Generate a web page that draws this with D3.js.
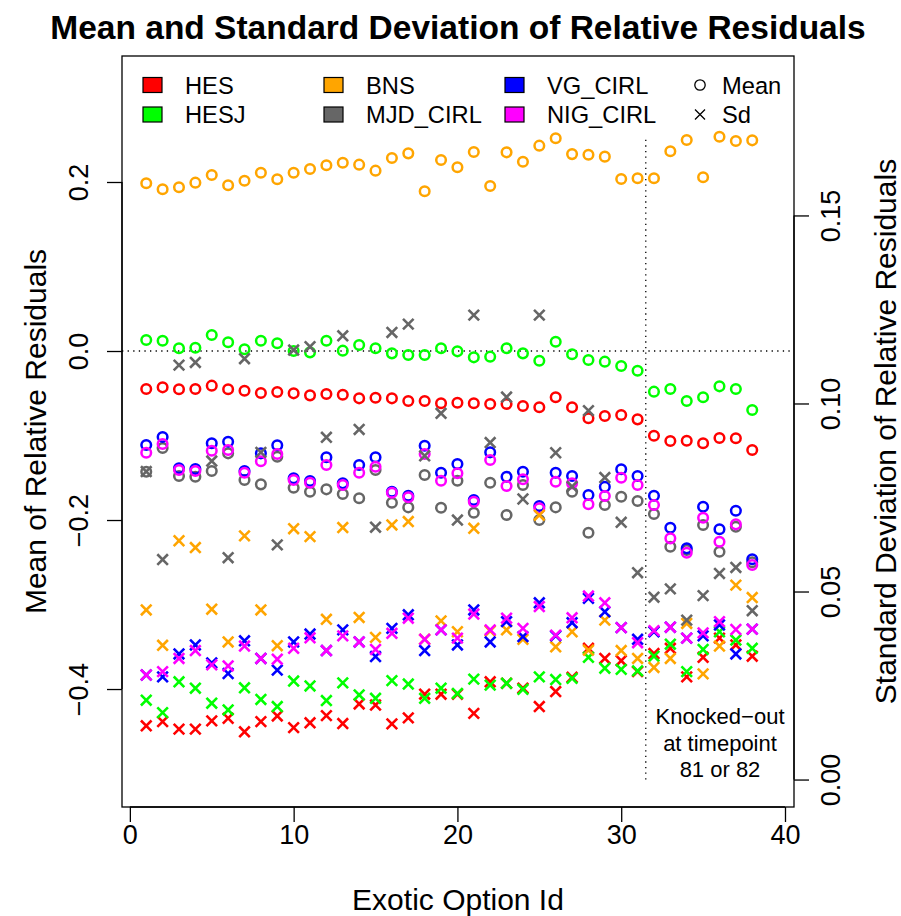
<!DOCTYPE html>
<html>
<head>
<meta charset="utf-8">
<script src="https://cdn.jsdelivr.net/npm/d3@7/dist/d3.min.js"></script>
<style>
  body { margin: 0; background: #fff; }
  text { font-family: "Liberation Sans", Arial, Helvetica, sans-serif; fill: #000; }
</style>
</head>
<body>
<svg id="chart" width="901" height="916"></svg>
<script>
// exotic option ids
var ids = [1, 2, 3, 4, 5, 6, 7, 8, 9, 10, 11, 12, 13, 14, 15, 16, 17, 18, 19, 20,
           21, 22, 23, 24, 25, 26, 27, 28, 29, 30, 31, 32, 33, 34, 35, 36, 37, 38];

var models = ["HES", "HESJ", "BNS", "MJD_CIRL", "VG_CIRL", "NIG_CIRL"];
var colors = ["#ff0000", "#00ff00", "#ffa500", "#666666", "#0000ff", "#ff00ff"];

// mean of relative residuals (left axis)
var hesMean  = [-0.0450, -0.0430, -0.0453, -0.0450, -0.0410, -0.0453, -0.0470, -0.0497, -0.0485, -0.0501,
                -0.0525, -0.0509, -0.0517, -0.0560, -0.0553, -0.0560, -0.0592, -0.0592, -0.0619, -0.0612,
                -0.0619, -0.0627, -0.0627, -0.0651, -0.0666, -0.0548, -0.0666, -0.0796, -0.0769, -0.0757,
                -0.0809, -0.1002, -0.1065, -0.1062, -0.1092, -0.1030, -0.1033, -0.1172];
var hesjMean = [0.0130, 0.0122, 0.0032, 0.0039, 0.0189, 0.0103, 0.0020, 0.0122, 0.0091, 0.0000,
                -0.0016, 0.0122, 0.0004, 0.0071, 0.0032, -0.0028, -0.0047, -0.0047, 0.0032, -0.0004,
                -0.0075, -0.0067, 0.0032, -0.0028, -0.0115, 0.0110, -0.0039, -0.0107, -0.0126, -0.0178,
                -0.0233, -0.0481, -0.0450, -0.0592, -0.0548, -0.0418, -0.0450, -0.0698];
var bnsMean  = [0.1985, 0.1914, 0.1937, 0.1992, 0.2083, 0.1961, 0.2015, 0.2110, 0.2032, 0.2110,
                0.2154, 0.2198, 0.2228, 0.2205, 0.2134, 0.2284, 0.2339, 0.1890, 0.2260, 0.2174,
                0.2355, 0.1953, 0.2351, 0.2240, 0.2430, 0.2517, 0.2330, 0.2323, 0.2300, 0.2036,
                0.2044, 0.2044, 0.2363, 0.2497, 0.2056, 0.2536, 0.2485, 0.2493];
var mjdMean  = [-0.1428, -0.1148, -0.1479, -0.1488, -0.1420, -0.1211, -0.1527, -0.1578, -0.1251, -0.1618,
                -0.1665, -0.1637, -0.1692, -0.1743, -0.1408, -0.1795, -0.1850, -0.1467, -0.1854, -0.1535,
                -0.1914, -0.1559, -0.1941, -0.1586, -0.2000, -0.1850, -0.1665, -0.2150, -0.1822, -0.1724,
                -0.1775, -0.1929, -0.2316, -0.2355, -0.2059, -0.2375, -0.2079, -0.2500];
var vgMean   = [-0.1112, -0.1018, -0.1388, -0.1396, -0.1092, -0.1073, -0.1420, -0.1211, -0.1116, -0.1507,
                -0.1538, -0.1258, -0.1566, -0.1349, -0.1258, -0.1665, -0.1712, -0.1121, -0.1440, -0.1337,
                -0.1763, -0.1199, -0.1488, -0.1428, -0.1834, -0.1440, -0.1479, -0.1704, -0.1606, -0.1400,
                -0.1479, -0.1712, -0.2091, -0.2335, -0.1843, -0.2110, -0.1890, -0.2465];
var nigMean  = [-0.1204, -0.1101, -0.1408, -0.1420, -0.1180, -0.1172, -0.1440, -0.1305, -0.1219, -0.1527,
                -0.1559, -0.1349, -0.1586, -0.1440, -0.1369, -0.1677, -0.1731, -0.1219, -0.1535, -0.1447,
                -0.1783, -0.1290, -0.1598, -0.1518, -0.1862, -0.1547, -0.1566, -0.1814, -0.1716, -0.1499,
                -0.1586, -0.1822, -0.2217, -0.2387, -0.1973, -0.2257, -0.2051, -0.2533];

// standard deviation of relative residuals (right axis)
var hesSd  = [0.0143, 0.0154, 0.0134, 0.0134, 0.0156, 0.0163, 0.0127, 0.0154, 0.0169, 0.0138,
              0.0151, 0.0170, 0.0149, 0.0201, 0.0198, 0.0148, 0.0164, 0.0227, 0.0227, 0.0227,
              0.0176, 0.0260, 0.0256, 0.0243, 0.0194, 0.0234, 0.0272, 0.0349, 0.0322, 0.0316,
              0.0287, 0.0335, 0.0349, 0.0273, 0.0325, 0.0376, 0.0358, 0.0328];
var hesjSd = [0.0211, 0.0178, 0.0260, 0.0243, 0.0203, 0.0185, 0.0244, 0.0213, 0.0194, 0.0262,
              0.0249, 0.0210, 0.0257, 0.0225, 0.0216, 0.0263, 0.0254, 0.0216, 0.0243, 0.0229,
              0.0267, 0.0251, 0.0256, 0.0240, 0.0273, 0.0266, 0.0269, 0.0325, 0.0296, 0.0293,
              0.0289, 0.0328, 0.0360, 0.0287, 0.0346, 0.0393, 0.0371, 0.0349];
var bnsSd  = [0.0451, 0.0357, 0.0635, 0.0617, 0.0453, 0.0366, 0.0648, 0.0451, 0.0356, 0.0667,
              0.0646, 0.0426, 0.0670, 0.0431, 0.0378, 0.0677, 0.0686, 0.0373, 0.0422, 0.0393,
              0.0668, 0.0395, 0.0398, 0.0373, 0.0703, 0.0353, 0.0393, 0.0344, 0.0424, 0.0343,
              0.0322, 0.0298, 0.0322, 0.0415, 0.0281, 0.0355, 0.0517, 0.0484];
var mjdSd  = [0.0819, 0.0585, 0.1102, 0.1109, 0.0847, 0.0590, 0.1119, 0.0870, 0.0624, 0.1142,
              0.1151, 0.0910, 0.1180, 0.0931, 0.0671, 0.1189, 0.1211, 0.0861, 0.0974, 0.0690,
              0.1235, 0.0896, 0.1017, 0.0746, 0.1235, 0.0869, 0.0779, 0.0981, 0.0803, 0.0684,
              0.0550, 0.0485, 0.0507, 0.0424, 0.0489, 0.0548, 0.0564, 0.0449];
var vgSd   = [0.0278, 0.0273, 0.0334, 0.0358, 0.0310, 0.0282, 0.0369, 0.0322, 0.0291, 0.0366,
              0.0387, 0.0343, 0.0398, 0.0366, 0.0327, 0.0402, 0.0438, 0.0343, 0.0398, 0.0358,
              0.0451, 0.0366, 0.0420, 0.0380, 0.0470, 0.0382, 0.0417, 0.0482, 0.0446, 0.0404,
              0.0373, 0.0393, 0.0405, 0.0376, 0.0382, 0.0411, 0.0334, 0.0400];
var nigSd  = [0.0278, 0.0287, 0.0322, 0.0343, 0.0305, 0.0302, 0.0355, 0.0322, 0.0320, 0.0349,
              0.0377, 0.0343, 0.0382, 0.0366, 0.0346, 0.0389, 0.0429, 0.0373, 0.0398, 0.0376,
              0.0440, 0.0398, 0.0429, 0.0402, 0.0460, 0.0384, 0.0430, 0.0488, 0.0470, 0.0404,
              0.0364, 0.0396, 0.0405, 0.0376, 0.0390, 0.0420, 0.0399, 0.0400];

var xTicks = [0, 10, 20, 30, 40];
var meanTicks = [-0.4, -0.2, 0.0, 0.2];
var sdTicks = [0.00, 0.05, 0.10, 0.15];
var knockedOutAt = 31.5;

var means = [hesMean, hesjMean, bnsMean, mjdMean, vgMean, nigMean];
var sds = [hesSd, hesjSd, bnsSd, mjdSd, vgSd, nigSd];

var svg = d3.select("#chart");
var box = {left: 122, right: 794, top: 56, bottom: 807};

var x = d3.scaleLinear().domain([-0.48, 40.55]).range([box.left, box.right]);
var yMean = d3.scaleLinear().domain([-0.5396, 0.3491]).range([box.bottom, box.top]);
var ySd = d3.scaleLinear().domain([-0.0073, 0.1924]).range([box.bottom, box.top]);

// title
svg.append("text")
  .attr("x", (box.left + box.right) / 2)
  .attr("y", 39)
  .attr("text-anchor", "middle")
  .style("font-size", "33.5px")
  .style("font-weight", "bold")
  .text("Mean and Standard Deviation of Relative Residuals");

// reference lines
svg.append("line")
  .attr("x1", box.left).attr("x2", box.right)
  .attr("y1", yMean(0)).attr("y2", yMean(0))
  .attr("stroke", "#000").attr("stroke-width", 1.3)
  .attr("stroke-dasharray", "1.3,4.3");

svg.append("line")
  .attr("x1", x(knockedOutAt)).attr("x2", x(knockedOutAt))
  .attr("y1", yMean(0.25)).attr("y2", ySd(0))
  .attr("stroke", "#000").attr("stroke-width", 1.3)
  .attr("stroke-dasharray", "1.3,4.3");

// points: means as circles, then sds as crosses
var pts = svg.append("g");
means.forEach(function (vals, k) {
  pts.selectAll(null)
    .data(vals)
    .enter().append("circle")
    .attr("cx", function (d, i) { return x(ids[i]); })
    .attr("cy", function (d) { return yMean(d); })
    .attr("r", 4.8)
    .attr("fill", "none")
    .attr("stroke", colors[k])
    .attr("stroke-width", 2.5);
});

var cs = 5.3;
function crossPath(cx, cy) {
  return "M" + (cx - cs) + "," + (cy - cs) + "L" + (cx + cs) + "," + (cy + cs) +
         "M" + (cx - cs) + "," + (cy + cs) + "L" + (cx + cs) + "," + (cy - cs);
}
sds.forEach(function (vals, k) {
  pts.selectAll(null)
    .data(vals)
    .enter().append("path")
    .attr("d", function (d, i) { return crossPath(x(ids[i]), ySd(d)); })
    .attr("fill", "none")
    .attr("stroke", colors[k])
    .attr("stroke-width", 2.6);
});

// box
svg.append("rect")
  .attr("x", box.left).attr("y", box.top)
  .attr("width", box.right - box.left).attr("height", box.bottom - box.top)
  .attr("fill", "none").attr("stroke", "#000").attr("stroke-width", 1.3);

// axes (axis line only spans first to last tick, like base R)
var bottomAxis = svg.append("g")
  .attr("transform", "translate(0," + box.bottom + ")")
  .call(d3.axisBottom(x).tickValues(xTicks).tickSizeInner(15).tickSizeOuter(0)
    .tickPadding(6).tickFormat(d3.format("d")));

var leftAxis = svg.append("g")
  .attr("transform", "translate(" + box.left + ",0)")
  .call(d3.axisLeft(yMean).tickValues(meanTicks).tickSizeInner(15).tickSizeOuter(0)
    .tickFormat(function (d) { return d3.format(".1f")(d).replace("-", "\u2212"); }));

var rightAxis = svg.append("g")
  .attr("transform", "translate(" + box.right + ",0)")
  .call(d3.axisRight(ySd).tickValues(sdTicks).tickSizeInner(15).tickSizeOuter(0)
    .tickFormat(d3.format(".2f")));

bottomAxis.select(".domain")
  .attr("d", "M" + x(xTicks[0]) + ",0H" + x(xTicks[xTicks.length - 1]));
leftAxis.select(".domain")
  .attr("d", "M0," + yMean(meanTicks[0]) + "V" + yMean(meanTicks[meanTicks.length - 1]));
rightAxis.select(".domain")
  .attr("d", "M0," + ySd(sdTicks[0]) + "V" + ySd(sdTicks[sdTicks.length - 1]));

[bottomAxis, leftAxis, rightAxis].forEach(function (a) {
  a.select(".domain").attr("stroke-width", 1.3);
  a.selectAll(".tick line").attr("stroke-width", 1.3);
  a.selectAll("text").style("font-size", "27px").attr("fill", "#000")
    .style("font-family", '"Liberation Sans", Arial, sans-serif');
});
bottomAxis.selectAll("text").attr("dy", "0.71em").attr("y", 18);

leftAxis.selectAll(".tick text")
  .attr("x", null).attr("dy", null)
  .attr("text-anchor", "middle")
  .attr("transform", "translate(-34,0) rotate(-90)");

rightAxis.selectAll(".tick text")
  .attr("x", null).attr("dy", null)
  .attr("text-anchor", "middle")
  .attr("transform", "translate(46,0) rotate(-90)");

// axis titles
svg.append("text")
  .attr("x", (box.left + box.right) / 2).attr("y", 910)
  .attr("text-anchor", "middle")
  .style("font-size", "30px")
  .text("Exotic Option Id");

svg.append("text")
  .attr("transform", "translate(46," + (box.top + box.bottom) / 2 + ") rotate(-90)")
  .attr("text-anchor", "middle")
  .style("font-size", "30px")
  .text("Mean of Relative Residuals");

svg.append("text")
  .attr("transform", "translate(896," + (box.top + box.bottom) / 2 + ") rotate(-90)")
  .attr("text-anchor", "middle")
  .style("font-size", "30px")
  .text("Standard Deviation of Relative Residuals");

// knocked-out note
var note = ["Knocked\u2212out", "at timepoint", "81 or 82"];
svg.append("g").selectAll("text")
  .data(note)
  .enter().append("text")
  .attr("x", 720)
  .attr("y", function (d, i) { return 724 + i * 26.6; })
  .attr("text-anchor", "middle")
  .style("font-size", "22px")
  .text(function (d) { return d; });

// legend
var legend = svg.append("g");
var colX = [143, 324, 505];
var rowY = [85, 114.5];
var legendFont = "23.7px";
models.forEach(function (m, k) {
  var c = Math.floor(k / 2), r = k % 2;
  legend.append("rect")
    .attr("x", colX[c]).attr("y", rowY[r] - 7.5)
    .attr("width", 19).attr("height", 15)
    .attr("fill", colors[k]).attr("stroke", "#000").attr("stroke-width", 1.2);
  legend.append("text")
    .attr("x", colX[c] + 42).attr("y", rowY[r] + 8.5)
    .style("font-size", legendFont)
    .text(m);
});
legend.append("circle")
  .attr("cx", 700).attr("cy", rowY[0]).attr("r", 5.2)
  .attr("fill", "none").attr("stroke", "#000").attr("stroke-width", 1.3);
legend.append("path")
  .attr("d", "M695,109.5L705,119.5M695,119.5L705,109.5")
  .attr("fill", "none").attr("stroke", "#000").attr("stroke-width", 1.3);
legend.append("text").attr("x", 722).attr("y", rowY[0] + 8.5).style("font-size", legendFont).text("Mean");
legend.append("text").attr("x", 722).attr("y", rowY[1] + 8.5).style("font-size", legendFont).text("Sd");
</script>
</body>
</html>
